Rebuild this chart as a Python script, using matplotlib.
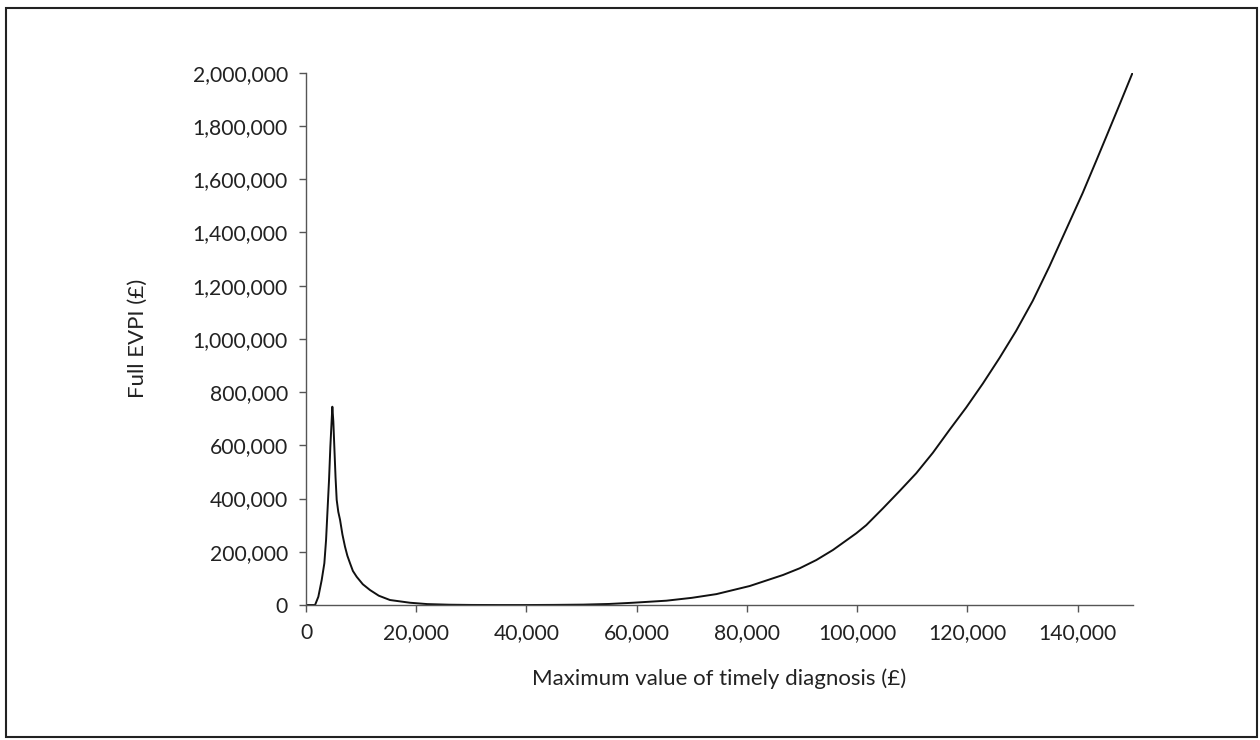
import matplotlib
matplotlib.use("Agg")
import matplotlib.pyplot as plt
from matplotlib.patches import Rectangle
from matplotlib.ticker import FuncFormatter

plt.rcParams['font.family'] = ['Lato', 'DejaVu Sans']

# maximum value of timely diagnosis (GBP) vs full EVPI (GBP)
value = [0, 1000, 1630, 2230, 2840, 3320, 3630, 3870, 4170, 4410, 4650, 4770,
         4950, 5130, 5350, 5560, 5850, 6170, 6600, 7070, 7500, 7980, 8500, 9190,
         10300, 11600, 13200, 15230, 18860, 22000, 26000, 30000, 35000, 40000,
         45000, 50280, 55000, 59340, 65400, 70000, 74470, 80510, 86550, 89580,
         92600, 95620, 99850, 101660, 104680, 107700, 110730, 113750, 116770,
         119800, 122820, 125840, 128860, 131880, 134900, 137920, 140940,
         143360, 145170, 147710, 150000]
evpi = [0, 0, 0, 31000, 94000, 157000, 244000, 345000, 470000, 595000, 695000,
        745000, 690000, 595000, 480000, 395000, 350000, 320000, 265000, 219000,
        185000, 157000, 128000, 106000, 78000, 56400, 35000, 18800, 8600, 3500,
        1200, 300, 0, 0, 500, 1500, 4000, 8600, 16300, 27000, 41000, 71400,
        112800, 138000, 169000, 206800, 269500, 300000, 363000, 428000, 495000,
        572000, 658000, 742000, 832000, 928000, 1030000, 1143000, 1272000,
        1410000, 1548000, 1667000, 1757000, 1884000, 2000000]

fig = plt.figure(figsize=(12.6, 7.4), dpi=100)
ax = fig.add_axes([0.2429, 0.1824, 0.656, 0.7194])

ax.plot(value, evpi, color='#111111', linewidth=1.4)

ax.set_xlim(0, 150000)
ax.set_ylim(0, 2000000)
ax.set_xticks(range(0, 150001, 20000))
ax.set_yticks(range(0, 2000001, 200000))
fmt = FuncFormatter(lambda v, p: '{:,}'.format(int(v)))
ax.xaxis.set_major_formatter(fmt)
ax.yaxis.set_major_formatter(fmt)

for s in ('top', 'right'):
    ax.spines[s].set_visible(False)
for s in ('left', 'bottom'):
    ax.spines[s].set_color('#555555')
    ax.spines[s].set_linewidth(1.0)
ax.tick_params(axis='both', direction='out', length=5, width=1.0,
               color='#555555', labelsize=15.2, labelcolor='#222222')
ax.tick_params(axis='y', pad=8)
ax.tick_params(axis='x', pad=8)

ax.set_xlabel('Maximum value of timely diagnosis (£)', fontsize=16,
              color='#222222', labelpad=18)
ax.set_ylabel('Full EVPI (£)', fontsize=16, color='#222222', labelpad=32)

fig.patches.append(Rectangle((0.0048, 0.004), 0.993, 0.985, transform=fig.transFigure,
                             fill=False, edgecolor='#222222', linewidth=1.5))

fig.savefig('out.png', dpi=100)
